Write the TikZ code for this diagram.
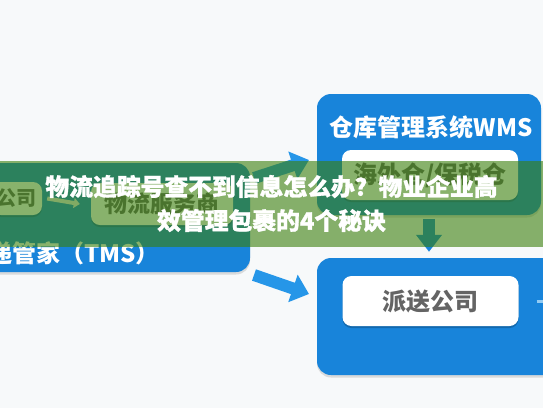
\documentclass[tikz,border=0pt]{standalone}
\usepackage{fontspec}
\setmainfont{Noto Sans CJK SC}
\newfontfamily\titlefont{Noto Sans CJK SC}[BoldFeatures={FakeBold=1.2}]
\usetikzlibrary{arrows.meta,shadows}
\definecolor{bg}{RGB}{247,249,250}
\definecolor{boxblue}{RGB}{24,132,218}
\definecolor{arrblue}{RGB}{38,150,232}
\definecolor{banner}{RGB}{58,127,10}
\definecolor{boxtext}{RGB}{100,100,100}
\begin{document}
\begin{tikzpicture}[x=1pt,y=-1pt,
  bluebox/.style={fill=boxblue, rounded corners=14pt, inner sep=0pt,
    drop shadow={shadow xshift=0pt, shadow yshift=-2.5pt, opacity=.25, fill=black!50}},
  whitebox/.style={fill=white, rounded corners=9pt, minimum width=176pt, minimum height=50pt,
    inner sep=0pt, font=\bfseries\fontsize{24}{24}\selectfont, text=boxtext,
    drop shadow={shadow xshift=0pt, shadow yshift=-2pt, opacity=.5, fill=boxblue!60!black}},
  headtext/.style={text=white, font=\bfseries\fontsize{24}{24}\selectfont, inner sep=0pt},
  blockarrow/.style={draw=arrblue, line width=12pt, -{Triangle[width=28pt,length=17pt]}},
]
\fill[bg] (0,0) rectangle (543,408);
\useasboundingbox (0,0) rectangle (543,408);

% boxes
\node[bluebox, minimum width=280pt, minimum height=109pt] (tms) at (110,217.5) {};
\node[bluebox, minimum width=224pt, minimum height=121pt] (wms) at (429,154.5) {};
\node[bluebox, minimum width=260pt, minimum height=117pt] (disp) at (447,316.5) {};

\node[headtext] (wmst) at (431,127) {仓库管理系统WMS};
\node[whitebox] (hw) at (430,175) {海外仓/保税仓};
\node[whitebox] (ps) at (430.5,301) {派送公司};

\node[whitebox, minimum width=50pt, minimum height=33pt, font=\bfseries\fontsize{20}{20}\selectfont] (gs) at (17,198.5) {公司};
\node[whitebox, minimum width=142pt, minimum height=42pt, font=\bfseries\fontsize{23}{23}\selectfont] (wl) at (162,204) {物流服务商};
\node[headtext, anchor=west] (tmst) at (-12,253) {递管家（TMS）};

% connectors
\draw[line width=4pt, draw=white!85!gray, -{Triangle[width=10pt,length=6pt]}]
  ([xshift=5pt]gs.east) -- ([xshift=-11pt]wl.west);
\coordinate (a1s) at (254,178);
\coordinate (a1e) at (309,160);
\draw[blockarrow] (a1s) -- (a1e);
\coordinate (a2s) at (254,275);
\coordinate (a2e) at (309,294);
\draw[blockarrow] (a2s) -- (a2e);
\draw[draw=boxblue, line width=12pt, -{Triangle[width=25pt,length=17pt]}]
  ([yshift=-4pt]wms.south) -- ([yshift=6pt]wms.south |- disp.north);
\draw[line width=3pt, draw=arrblue!50!white] ([xshift=18pt]ps.east) -- ([xshift=30pt]ps.east);

% banner
\fill[banner, fill opacity=.6] (0,161) rectangle (543,247);
\node[text=white, font=\titlefont\bfseries\fontsize{23.8}{34}\selectfont, align=center, inner sep=0pt] (title) at (271.5,203.5)
  {物流追踪号查不到信息怎么办？物业企业高\\效管理包裹的4个秘诀};
\end{tikzpicture}
\end{document}
